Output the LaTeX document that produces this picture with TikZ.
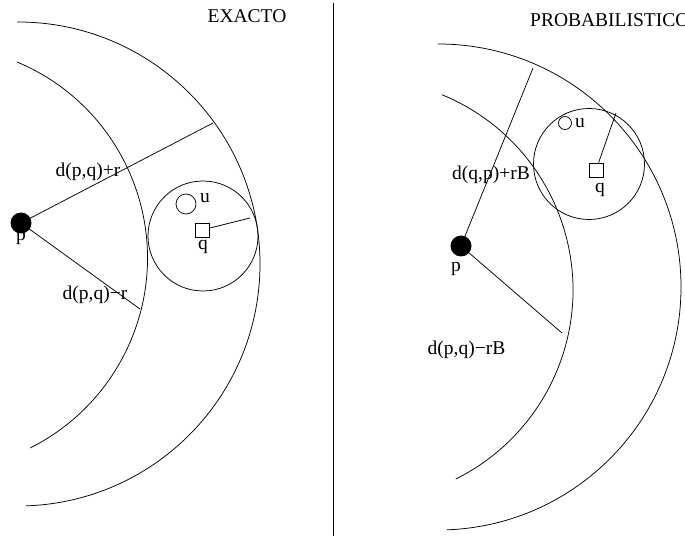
\documentclass[tikz,border=0pt]{standalone}
\usepackage{fontspec}
\setmainfont{Liberation Serif}
\tikzset{
  thin line/.style={line width=0.75pt},
  dot/.style={circle, fill=black, inner sep=0pt, minimum size=21pt},
  ring/.style={circle, draw, line width=0.75pt, inner sep=0pt},
  sqbox/.style={draw, line width=0.75pt, inner sep=0pt, minimum size=14pt},
  lbl/.style={inner sep=0pt, font=\fontsize{19.5}{22}\selectfont}
}
\begin{document}
\begin{tikzpicture}[x=1pt,y=1pt]
\useasboundingbox (0,0) rectangle (685,536);
% divider
\coordinate (dtop) at (333,533);
\coordinate (dbot) at (333,0);
\draw[thin line] (dtop) -- (dbot);

% ---------- left panel: EXACTO ----------
\node[lbl] (tEx) at (247,520) {EXACTO};
\coordinate (cOutL) at (18,272);
\coordinate (cInL) at (-65,278);
\draw[thin line] (cOutL) ++(90.2:242) arc[start angle=90.2, end angle=-88.1, radius=242];
\draw[thin line] (cInL) ++(67.3:212.5) arc[start angle=67.3, end angle=-63.4, radius=212.5];
\node[dot] (pL) at (21,313) {};
\node[lbl] (pLl) at (21,298) {p};
\coordinate (e1) at (213,413);
\coordinate (e2) at (140,227);
\draw[thin line] (pL.center) -- (e1);
\draw[thin line] (pL.center) -- (e2);
\node[lbl] (l1) at (88,364.5) {d(p,q)+r};
\node[lbl] (l2) at (95,241.5) {d(p,q)−r};
\node[ring, minimum size=110pt] (qcL) at (203,300) {};
\node[sqbox] (sqL) at (202,306) {};
\coordinate (s1) at (250,318);
\draw[thin line] (sqL) -- (s1);
\node[lbl] (qL) at (203,289) {q};
\node[ring, minimum size=20pt] (uL) at (186,332) {};
\node[lbl] (uLl) at (205,338) {u};

% ---------- right panel: PROBABILISTICO ----------
\node[lbl, anchor=west] (tPr) at (530,515.5) {PROBABILISTICO};
\coordinate (cOutR) at (438,249);
\coordinate (cInR) at (362,246);
\draw[thin line] (cOutR) ++(90:243) arc[start angle=90, end angle=-87.9, radius=243];
\draw[thin line] (cInR) ++(67.7:211) arc[start angle=67.7, end angle=-63.6, radius=211];
\node[dot] (pR) at (461,290) {};
\node[lbl] (pRl) at (456,267) {p};
\coordinate (e3) at (533,468);
\coordinate (e4) at (562,203);
\draw[thin line] (pR.center) -- (e3);
\draw[thin line] (pR.center) -- (e4);
\node[lbl] (l3) at (491,361.5) {d(q,p)+rB};
\node[lbl] (l4) at (466.5,186.5) {d(p,q)−rB};
\node[ring, minimum size=111pt] (qcR) at (589,372) {};
\node[sqbox] (sqR) at (596,366) {};
\coordinate (s2) at (616,423);
\draw[thin line] (sqR) -- (s2);
\node[lbl] (qR) at (600,346) {q};
\node[ring, minimum size=13pt] (uR) at (565,413) {};
\node[lbl] (uRl) at (580,413) {u};
\end{tikzpicture}
\end{document}
